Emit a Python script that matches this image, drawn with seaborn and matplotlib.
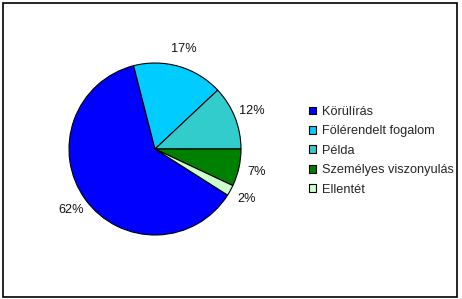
import matplotlib
matplotlib.use("Agg")
import matplotlib.pyplot as plt
import seaborn as sns
from matplotlib.patches import Rectangle

categories = ["Körülírás", "Fölérendelt fogalom", "Példa", "Személyes viszonyulás", "Ellentét"]
values = [62, 17, 12, 7, 2]
colors = ["#0000FF", "#00CCFF", "#33CCCC", "#008000", "#CCFFCC"]

sns.set_theme(style="white")
plt.rcParams["font.family"] = ["Liberation Sans", "DejaVu Sans"]

W, H = 462, 299
fig = plt.figure(figsize=(W / 100, H / 100), dpi=100)
ax = fig.add_axes([0, 0, 1, 1])

palette = sns.color_palette(colors)
wedges, texts, autotexts = ax.pie(
    values,
    colors=palette,
    startangle=-32.4,
    counterclock=False,
    center=(155, H - 149),
    radius=86,
    autopct=lambda p: f"{p:.0f}%",
    pctdistance=1.21,
    wedgeprops=dict(edgecolor="black", linewidth=0.8),
    textprops=dict(fontsize=9.2, color="#111111"),
    frame=True,
)
ax.set_xlim(0, W)
ax.set_ylim(0, H)
ax.set_aspect("equal")
ax.axis("off")

# outer frame
fig.patches.append(Rectangle((2.5 / W, 2.5 / H), (457 - 2.5) / W, (296.5 - 2.5) / H,
                             transform=fig.transFigure, fill=False,
                             edgecolor="black", linewidth=1.2))

leg = ax.legend(wedges, categories, loc="upper left",
                bbox_to_anchor=(309 / W, 1 - 106 / H),
                bbox_transform=fig.transFigure,
                frameon=False, fontsize=9.2,
                handlelength=0.55, handleheight=0.55, handletextpad=0.45,
                labelspacing=0.58, borderaxespad=0, borderpad=0)
for h in leg.legend_handles:
    h.set_linewidth(0.8)
    h.set_edgecolor("black")

fig.savefig("out.png", dpi=100)
